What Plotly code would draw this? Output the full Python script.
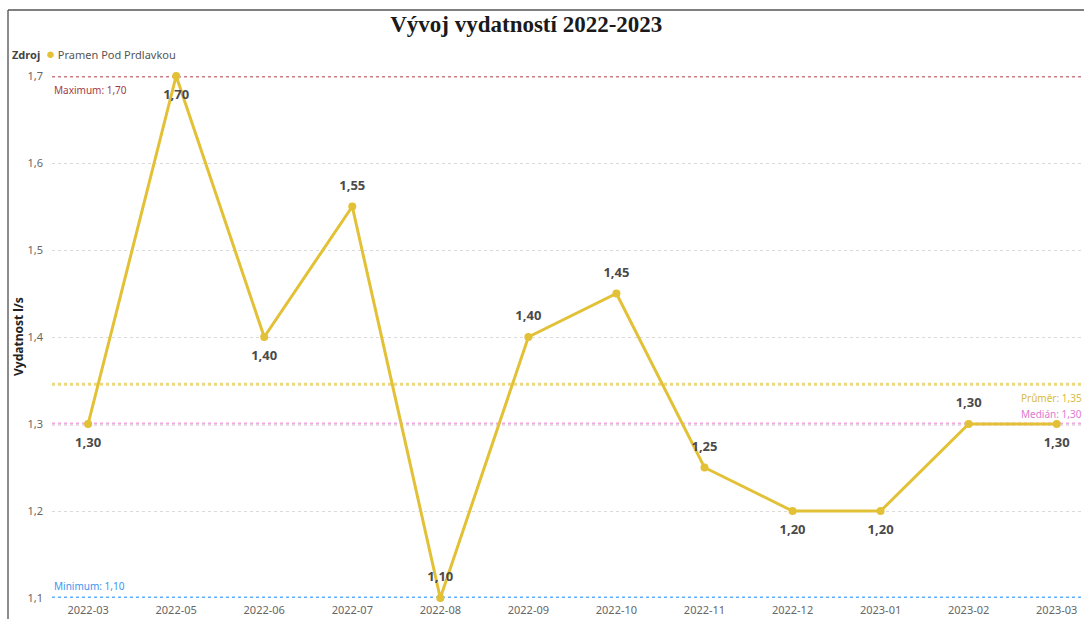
import plotly.graph_objects as go

months = ["2022-03", "2022-05", "2022-06", "2022-07", "2022-08", "2022-09",
          "2022-10", "2022-11", "2022-12", "2023-01", "2023-02", "2023-03"]
values = [1.30, 1.70, 1.40, 1.55, 1.10, 1.40, 1.45, 1.25, 1.20, 1.20, 1.30, 1.30]
label_pos = ["bottom center", "bottom center", "bottom center", "top center",
             "top center", "top center", "top center", "top center",
             "bottom center", "bottom center", "top center", "bottom center"]
series_name = "Pramen Pod Prdlavkou"

v_max = max(values)
v_min = min(values)
v_mean = sum(values) / len(values)
sv = sorted(values)
v_median = (sv[len(sv)//2 - 1] + sv[len(sv)//2]) / 2

W, H = 1084, 619
ML, MR, MT, MB = 52, 0, 76, 21
pw, ph = W - ML - MR, H - MT - MB

def px(x):
    return (x - ML) / pw

def py(y):
    return (H - MB - y) / ph

FONT = "Noto Sans, Open Sans, sans-serif"
LINE_C = "#E2C136"

def fmt(v):
    return f"{v:.2f}".replace(".", ",")

fig = go.Figure()

refs = [
    (v_max, "rgba(196,110,120,0.9)", f"Maximum: {fmt(v_max)}", "#A33A48", "left", "top", -5),
    (v_min, "rgba(80,165,250,0.9)", f"Minimum: {fmt(v_min)}", "#3A95F0", "left", "bottom", 3),
    (v_mean, "rgba(236,214,120,0.95)", f"Průměr: {fmt(v_mean)}", "#D8BB40", "right", "top", -5),
    (v_median, "rgba(238,160,224,0.9)", f"Medián: {fmt(v_median)}", "#E07AD0", "right", "bottom", 1),
]
for yv, lc, txt, tc, side, va, ys in refs:
    fig.add_shape(type="line", xref="paper", yref="y", x0=0, x1=1, y0=yv, y1=yv,
                  line=dict(color=lc, width=3, dash="dot"), layer="below")
    fig.add_annotation(
        xref="paper", yref="y",
        x=0.0 if side == "left" else 1.0,
        y=yv, text=txt, showarrow=False,
        xanchor="left" if side == "left" else "right",
        yanchor="top" if va == "top" else "bottom",
        yshift=ys,
        font=dict(family=FONT, size=10, color=tc),
    )

fig.add_trace(go.Scatter(
    x=months, y=values, mode="lines+markers",
    line=dict(color=LINE_C, width=3),
    marker=dict(color=LINE_C, size=8),
    cliponaxis=False, showlegend=False, name=series_name,
))
# data labels (transparent larger markers give the label offset)
fig.add_trace(go.Scatter(
    x=months, y=values, mode="markers+text",
    marker=dict(color="rgba(0,0,0,0)", size=20),
    text=[fmt(v) for v in values], textposition=label_pos,
    textfont=dict(family=FONT, size=13, color="#4a4a4a", weight="bold"),
    cliponaxis=False, showlegend=False, hoverinfo="skip",
))

# legend drawn as text
fig.add_annotation(
    xref="paper", yref="paper", x=px(10), y=py(53), xanchor="left", yanchor="middle",
    showarrow=False,
    text=f"<b>Zdroj</b>  <span style='color:{LINE_C};font-size:15px'>●</span> <span style='color:#555'>{series_name}</span>",
    font=dict(family=FONT, size=11, color="#444"),
)

# y axis title
fig.add_annotation(
    xref="paper", yref="paper", x=px(18), y=py(337), xanchor="center", yanchor="middle",
    showarrow=False, textangle=-90, text="<b>Vydatnost l/s</b>",
    font=dict(family=FONT, size=12, color="#222"),
)

# frame lines
fig.add_shape(type="line", xref="paper", yref="paper",
              x0=px(8), x1=px(8), y0=py(10), y1=py(H + 5),
              line=dict(color="#666666", width=1.5), layer="above")
fig.add_shape(type="line", xref="paper", yref="paper",
              x0=px(8), x1=px(W + 5), y0=py(10), y1=py(10),
              line=dict(color="#555555", width=1.5), layer="above")

fig.update_layout(
    width=W, height=H,
    margin=dict(l=ML, r=MR, t=MT, b=MB, autoexpand=False),
    paper_bgcolor="white", plot_bgcolor="white",
    separators=",.",
    title=dict(text="<b>Vývoj vydatností 2022-2023</b>", x=px(553), xanchor="center",
               y=1 - 24 / H, yanchor="middle",
               font=dict(family="Liberation Serif, Times New Roman, serif", size=23, color="#1a1a1a")),
    showlegend=False,
    xaxis=dict(type="category", range=[-0.41, 11.31], showgrid=False, showline=False,
               zeroline=False, ticks="", ticklabelstandoff=4,
               tickfont=dict(family=FONT, size=11, color="#666")),
    yaxis=dict(range=[1.1, 1.7], dtick=0.1, tickformat=".1f", showgrid=True,
               gridcolor="#dadada", griddash="dot", gridwidth=1, zeroline=False,
               showline=False, ticks="", ticklabelstandoff=8, automargin=False,
               tickfont=dict(family=FONT, size=11, color="#666")),
)

fig.write_html("out.html", config={"displayModeBar": False},
               post_script="document.body.style.margin='0';document.body.style.overflow='hidden';")
